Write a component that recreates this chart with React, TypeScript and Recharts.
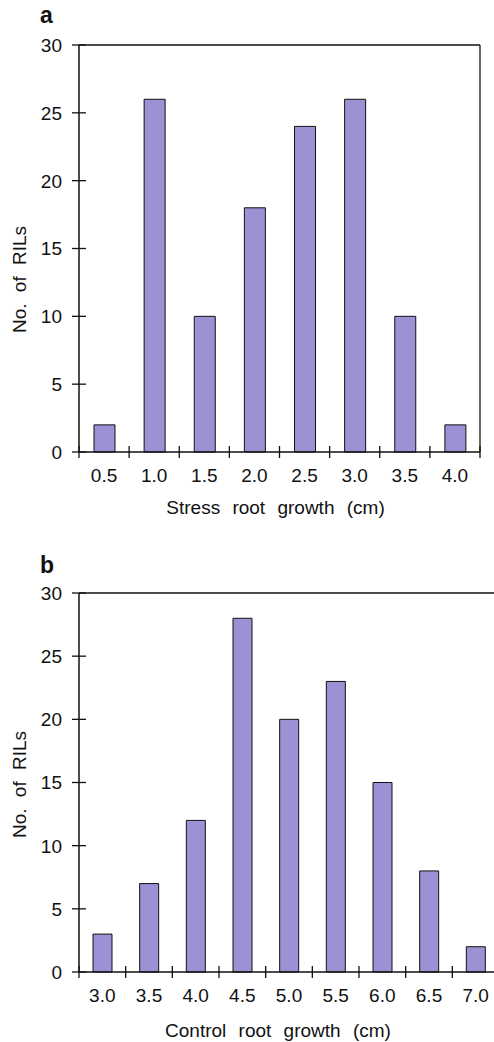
import React from "react";
import { BarChart, Bar, XAxis, YAxis, ReferenceLine } from "recharts";

// panel a: stress root growth
const stressBins = ["0.5", "1.0", "1.5", "2.0", "2.5", "3.0", "3.5", "4.0"];
const stressCounts = [2, 26, 10, 18, 24, 26, 10, 2];

// panel b: control root growth
const controlBins = ["3.0", "3.5", "4.0", "4.5", "5.0", "5.5", "6.0", "6.5", "7.0"];
const controlCounts = [3, 7, 12, 28, 20, 23, 15, 8, 2];

const yTicks = [0, 5, 10, 15, 20, 25, 30];
const yMax = 30;

const FONT = '"Liberation Sans", Arial, Helvetica, sans-serif';
const INK = "#111";
const FILL = "#9a92d4";
const FS = 19;

const Y_W = 79;

const dataA = stressBins.map((bin, i) => ({ bin, n: stressCounts[i] }));
const dataB = controlBins.map((bin, i) => ({ bin, n: controlCounts[i] }));

const YTick = (props: any) => {
  const { x, y, payload } = props;
  const ax = x + 17;
  return (
    <g>
      <line x1={ax - 7} x2={ax + 7} y1={y} y2={y} stroke={INK} strokeWidth={1.3} />
      <text x={x} y={y} dy="0.36em" textAnchor="end" fontSize={FS} fontFamily={FONT} fill={INK}>
        {payload.value}
      </text>
    </g>
  );
};

const makeXTick = (bw: number) => (props: any) => {
  const { x, y, payload, index, visibleTicksCount } = props;
  const last = index === visibleTicksCount - 1;
  return (
    <g>
      <line x1={x - bw / 2} x2={x - bw / 2} y1={y - 6} y2={y + 6} stroke={INK} strokeWidth={1.3} />
      {last && <line x1={x + bw / 2} x2={x + bw / 2} y1={y - 6} y2={y + 6} stroke={INK} strokeWidth={1.3} />}
      <text x={x} y={y + 30} textAnchor="middle" fontSize={FS} fontFamily={FONT} fill={INK}>
        {payload.value}
      </text>
    </g>
  );
};

const yTitle = (shift: number) => (props: any) => {
  const vb = props.viewBox;
  const cx = vb.x + 19;
  const cy = vb.y + vb.height / 2 + shift;
  return (
    <text
      x={cx}
      y={cy}
      transform={`rotate(-90 ${cx} ${cy})`}
      textAnchor="middle"
      dominantBaseline="central"
      fontSize={FS}
      fontFamily={FONT}
      fill={INK}
      style={{ wordSpacing: "6px" }}
    >
      No. of RILs
    </text>
  );
};

const xTitle = (text: string, dx: number, dy: number) => (props: any) => {
  const vb = props.viewBox;
  return (
    <text
      x={vb.x + vb.width / 2 + dx}
      y={vb.y + dy}
      textAnchor="middle"
      fontSize={FS}
      fontFamily={FONT}
      fill={INK}
      style={{ wordSpacing: "7px" }}
    >
      {text}
    </text>
  );
};

export default function App() {
  const wA = 494;
  const mA = { top: 45, right: 13, bottom: 0, left: 0 };
  const bwA = (wA - mA.right - 1 - Y_W) / stressBins.length;

  const wB = 520;
  const mB = { top: 53, right: 21, bottom: 0, left: 0 };
  const bwB = (wB - mB.right - Y_W) / controlBins.length;

  return (
    <div
      style={{
        position: "absolute",
        left: 0,
        top: 0,
        width: 494,
        height: 1042,
        overflow: "hidden",
        background: "#fff",
      }}
    >
      <div style={{ position: "absolute", left: 0, top: 0 }}>
        <BarChart width={wA} height={530} data={dataA} margin={mA}>
          <XAxis
            xAxisId="cat"
            dataKey="bin"
            height={78}
            interval={0}
            tickSize={0}
            tickMargin={0}
            tickLine={false}
            axisLine={{ stroke: INK, strokeWidth: 1.5 }}
            tick={makeXTick(bwA)}
            label={{ content: xTitle("Stress root growth (cm)", -4, 62) }}
          />
          <YAxis
            yAxisId="left"
            width={Y_W}
            domain={[0, yMax]}
            ticks={yTicks}
            tickSize={7}
            tickMargin={10}
            tickLine={false}
            axisLine={{ stroke: INK, strokeWidth: 1.5 }}
            tick={<YTick />}
            label={{ content: yTitle(31) }}
          />
          <YAxis
            yAxisId="right"
            orientation="right"
            type="number"
            width={1}
            domain={[0, yMax]}
            ticks={[0, yMax]}
            tick={false}
            tickLine={false}
            axisLine={{ stroke: INK, strokeWidth: 1.3 }}
          />
          <ReferenceLine xAxisId="cat" yAxisId="left" y={yMax} stroke={INK} strokeWidth={1.3} />
          <Bar
            xAxisId="cat"
            yAxisId="left"
            dataKey="n"
            barSize={21}
            fill={FILL}
            stroke={INK}
            strokeWidth={1}
            isAnimationActive={false}
          />
        </BarChart>
      </div>

      <div style={{ position: "absolute", left: 0, top: 540 }}>
        <BarChart width={wB} height={502} data={dataB} margin={mB}>
          <XAxis
            xAxisId="cat"
            dataKey="bin"
            height={70}
            interval={0}
            tickSize={0}
            tickMargin={0}
            tickLine={false}
            axisLine={{ stroke: INK, strokeWidth: 1.5 }}
            tick={makeXTick(bwB)}
            label={{ content: xTitle("Control root growth (cm)", -11, 65) }}
          />
          <YAxis
            yAxisId="left"
            width={Y_W}
            domain={[0, yMax]}
            ticks={yTicks}
            tickSize={7}
            tickMargin={10}
            tickLine={false}
            axisLine={{ stroke: INK, strokeWidth: 1.5 }}
            tick={<YTick />}
            label={{ content: yTitle(2) }}
          />
          <ReferenceLine xAxisId="cat" yAxisId="left" y={yMax} stroke={INK} strokeWidth={1.3} />
          <Bar
            xAxisId="cat"
            yAxisId="left"
            dataKey="n"
            barSize={19}
            fill={FILL}
            stroke={INK}
            strokeWidth={1}
            isAnimationActive={false}
          />
        </BarChart>
      </div>

      <svg
        width={494}
        height={1042}
        style={{ position: "absolute", left: 0, top: 0, pointerEvents: "none" }}
      >
        <text x={40} y={23} fontSize={23} fontWeight="bold" fontFamily={FONT} fill={INK}>
          a
        </text>
        <text x={40} y={573} fontSize={23} fontWeight="bold" fontFamily={FONT} fill={INK}>
          b
        </text>
      </svg>
    </div>
  );
}
